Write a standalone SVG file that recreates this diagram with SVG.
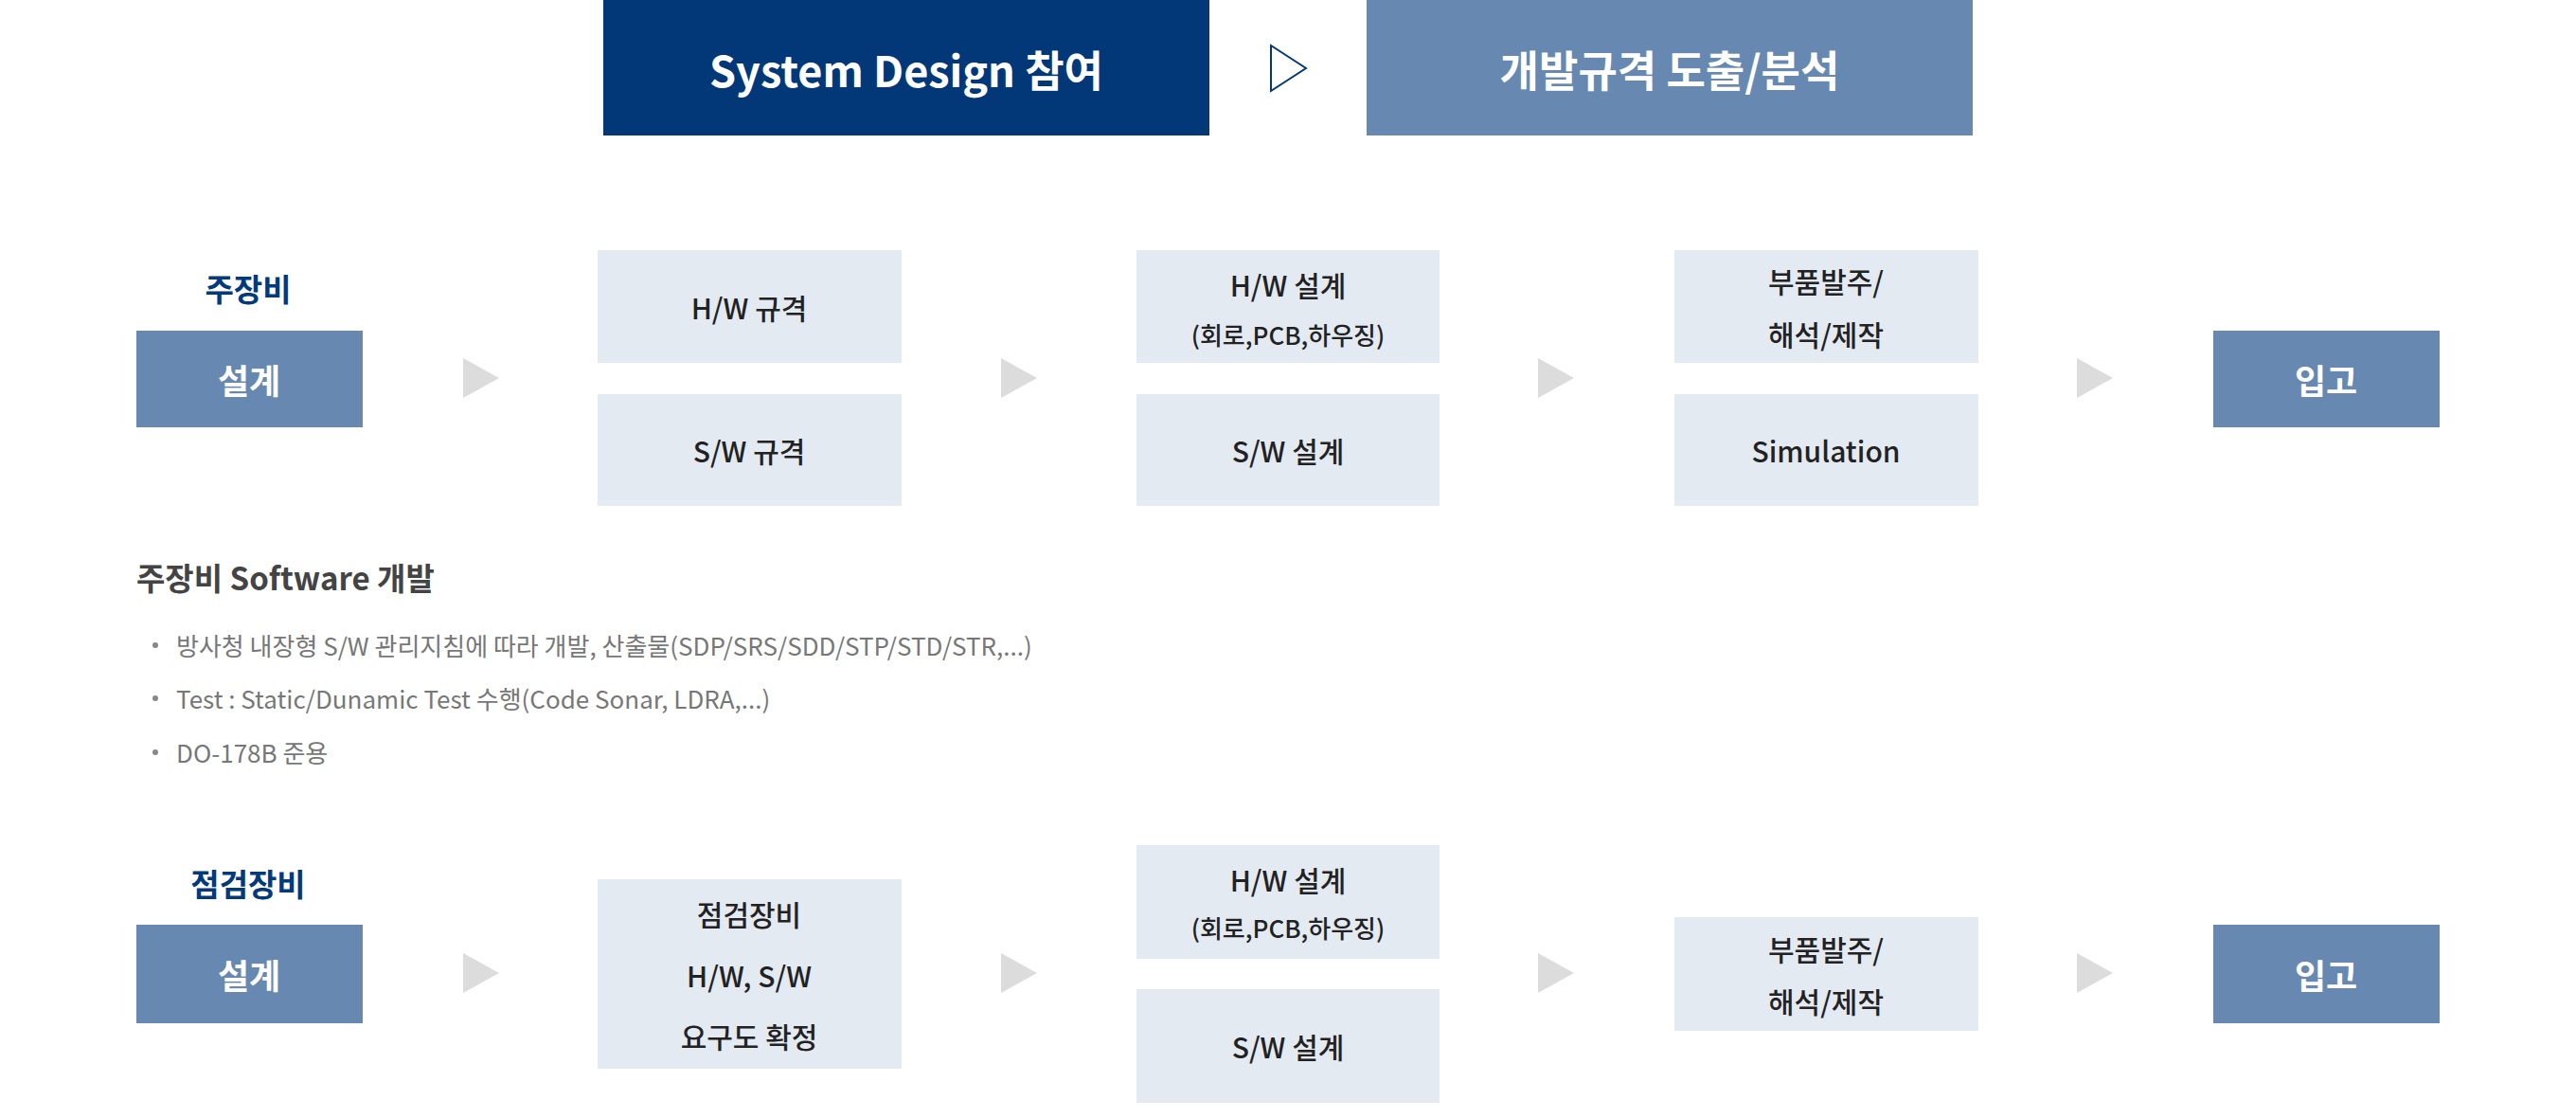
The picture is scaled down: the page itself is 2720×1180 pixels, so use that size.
<svg xmlns="http://www.w3.org/2000/svg" width="2720" height="1180" viewBox="0 0 2720 1180">
<style>
text{font-family:"Noto Sans CJK KR","Noto Sans",sans-serif;dominant-baseline:central;text-anchor:middle}
.hd{font-size:45px;font-weight:700;fill:#fff}
.lbl{font-size:33px;font-weight:700;fill:#033a7c}
.dk{fill:#6788b0}
.lt{fill:#e4eaf2}
.wt{font-size:36px;font-weight:700;fill:#fff}
.bt{font-size:30px;font-weight:500;fill:#222}
.sm{font-size:26px;font-weight:500;fill:#222}
.ar{fill:#dcdcdc}
.ttl{font-size:33px;font-weight:700;fill:#444;text-anchor:start}
.bl{font-size:26px;fill:#777;text-anchor:start}
</style>
<rect width="2720" height="1180" fill="#fff"/>
<g id="head1"><rect x="637" y="0" width="640" height="143" fill="#023877"/><text class="hd" x="957" y="72">System Design 참여</text></g>
<g id="head2"><rect x="1443" y="0" width="640" height="143" fill="#6788b0"/><text class="hd" x="1763" y="72">개발규격 도출/분석</text></g>
<g id="connectors">
<polygon points="1342,48 1379,72 1342,96" fill="none" stroke="#023877" stroke-width="2"/>
<polygon class="ar" points="489,378 527,399 489,420"/>
<polygon class="ar" points="1057,378 1095,399 1057,420"/>
<polygon class="ar" points="1624,378 1662,399 1624,420"/>
<polygon class="ar" points="2193,378 2231,399 2193,420"/>
<polygon class="ar" points="489,1006 527,1027 489,1048"/>
<polygon class="ar" points="1057,1006 1095,1027 1057,1048"/>
<polygon class="ar" points="1624,1006 1662,1027 1624,1048"/>
<polygon class="ar" points="2193,1006 2231,1027 2193,1048"/>
</g>
<g id="row1-label"><text class="lbl" x="262" y="304">주장비</text></g>
<g id="r1-design"><rect class="dk" x="144" y="349" width="239" height="102"/><text class="wt" x="263" y="400">설계</text></g>
<g id="r1-hwspec"><rect class="lt" x="631" y="264" width="321" height="119"/><text class="bt" x="791" y="324">H/W 규격</text></g>
<g id="r1-swspec"><rect class="lt" x="631" y="416" width="321" height="118"/><text class="bt" x="791" y="475">S/W 규격</text></g>
<g id="r1-hwdesign"><rect class="lt" x="1200" y="264" width="320" height="119"/><text class="bt" x="1360" y="300">H/W 설계</text><text class="sm" x="1360" y="352">(회로,PCB,하우징)</text></g>
<g id="r1-swdesign"><rect class="lt" x="1200" y="416" width="320" height="118"/><text class="bt" x="1360" y="475">S/W 설계</text></g>
<g id="r1-parts"><rect class="lt" x="1768" y="264" width="321" height="119"/><text class="bt" x="1928" y="296">부품발주/</text><text class="bt" x="1928" y="352">해석/제작</text></g>
<g id="r1-sim"><rect class="lt" x="1768" y="416" width="321" height="118"/><text class="bt" x="1928" y="475">Simulation</text></g>
<g id="r1-in"><rect class="dk" x="2337" y="349" width="239" height="102"/><text class="wt" x="2456" y="400">입고</text></g>
<g id="sw-notes">
<text class="ttl" x="144" y="609">주장비 Software 개발</text>
<circle cx="164" cy="681" r="3" fill="#888"/><text class="bl" x="186" y="680">방사청 내장형 S/W 관리지침에 따라 개발, 산출물(SDP/SRS/SDD/STP/STD/STR,...)</text>
<circle cx="164" cy="737" r="3" fill="#888"/><text class="bl" x="186" y="736">Test : Static/Dunamic Test 수행(Code Sonar, LDRA,...)</text>
<circle cx="164" cy="794" r="3" fill="#888"/><text class="bl" x="186" y="793">DO-178B 준용</text>
</g>
<g id="row2-label"><text class="lbl" x="262" y="932">점검장비</text></g>
<g id="r2-design"><rect class="dk" x="144" y="976" width="239" height="104"/><text class="wt" x="263" y="1028">설계</text></g>
<g id="r2-req"><rect class="lt" x="631" y="928" width="321" height="200"/><text class="bt" x="791" y="964">점검장비</text><text class="bt" x="791" y="1029">H/W, S/W</text><text class="bt" x="791" y="1093">요구도 확정</text></g>
<g id="r2-hwdesign"><rect class="lt" x="1200" y="892" width="320" height="120"/><text class="bt" x="1360" y="928">H/W 설계</text><text class="sm" x="1360" y="978">(회로,PCB,하우징)</text></g>
<g id="r2-swdesign"><rect class="lt" x="1200" y="1044" width="320" height="120"/><text class="bt" x="1360" y="1104">S/W 설계</text></g>
<g id="r2-parts"><rect class="lt" x="1768" y="968" width="321" height="120"/><text class="bt" x="1928" y="1001">부품발주/</text><text class="bt" x="1928" y="1056">해석/제작</text></g>
<g id="r2-in"><rect class="dk" x="2337" y="976" width="239" height="104"/><text class="wt" x="2456" y="1028">입고</text></g>
</svg>
